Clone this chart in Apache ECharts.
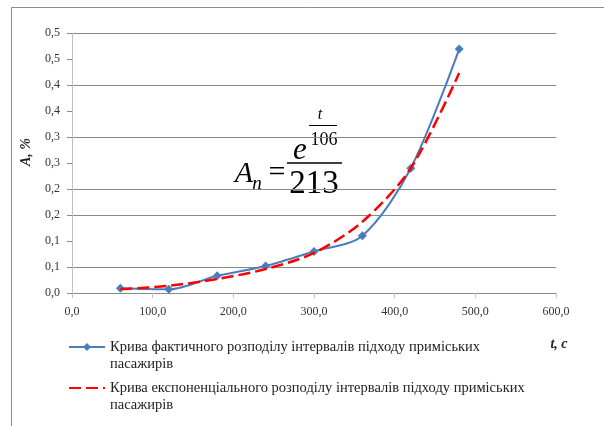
<!DOCTYPE html>
<html><head><meta charset="utf-8">
<script src="https://cdn.jsdelivr.net/npm/echarts@6/dist/echarts.min.js"></script>
<style>html,body{margin:0;padding:0;background:#fff}#c{width:604px;height:426px}</style>
</head><body><div id="c"></div>
<script>
const tValues = [60, 120, 180, 240, 300, 360, 420, 480];
const actualValues = [0.009, 0.007, 0.033, 0.052, 0.080, 0.110, 0.240, 0.469];
const expValues = [0.007, 0.014, 0.027, 0.046, 0.077, 0.137, 0.240, 0.423];
const yTickLabels = ['0,0','0,1','0,1','0,2','0,2','0,3','0,3','0,4','0,4','0,5','0,5'];
const xTickLabels = ['0,0','100,0','200,0','300,0','400,0','500,0','600,0'];
const seriesNames = [
  'Крива фактичного розподілу інтервалів підходу приміських\nпасажирів',
  'Крива експоненціального розподілу інтервалів підходу приміських\nпасажирів'
];
const gridColors = ['#8a8a8a','#8a8a8a','rgba(0,0,0,0)','#8a8a8a','#8a8a8a','rgba(0,0,0,0)','#8a8a8a','rgba(0,0,0,0)','#8a8a8a','rgba(0,0,0,0)','#8a8a8a'];

const serif = '"Liberation Serif", "DejaVu Serif", serif';
const legendBase = {
  orient: 'vertical', left: 68, padding: 0, itemWidth: 36, itemHeight: 10,
  textStyle: {fontFamily: serif, fontSize: 14.5, color: '#222', lineHeight: 17},
  formatter: (name) => '\u00a0\n' + name
};
const chart = echarts.init(document.getElementById('c'), null, {renderer: 'canvas'});
chart.setOption({
  animation: false,
  grid: {left: 72, right: 48, top: 33, bottom: 133, containLabel: false},
  legend: [
    Object.assign({}, legendBase, {top: 321.5, data: [seriesNames[0]]}),
    Object.assign({}, legendBase, {top: 362.5, data: [{name: seriesNames[1], itemStyle: {opacity: 0}}]})
  ],
  xAxis: {
    type: 'value', min: 0, max: 600, interval: 100,
    axisLine: {lineStyle: {color: '#8a8a8a', width: 1}},
    axisTick: {show: true, length: 5, lineStyle: {color: '#c0c0c0'}},
    axisLabel: {fontFamily: serif, fontSize: 12, color: '#333', margin: 13,
      formatter: (v) => xTickLabels[Math.round(v / 100)]},
    splitLine: {show: false}
  },
  yAxis: {
    type: 'value', min: 0, max: 0.5, interval: 0.05,
    axisLine: {show: true, lineStyle: {color: '#c0c0c0', width: 1}},
    axisTick: {show: true, length: 5, lineStyle: {color: '#8a8a8a'}},
    axisLabel: {fontFamily: serif, fontSize: 12, color: '#333', margin: 12,
      formatter: (v) => yTickLabels[Math.round(v / 0.05)]},
    splitLine: {show: true, lineStyle: {color: gridColors, width: 1}}
  },
  series: [
    {
      name: seriesNames[0], type: 'line', smooth: 0.3,
      data: tValues.map((t, i) => [t, actualValues[i]]),
      symbol: 'diamond', symbolSize: 9,
      lineStyle: {color: '#4a7ebb', width: 2},
      itemStyle: {color: '#4a7ebb'}, z: 3
    },
    {
      name: seriesNames[1], type: 'line', smooth: 0.3,
      data: tValues.map((t, i) => [t, expValues[i]]),
      symbol: 'none', showSymbol: false,
      lineStyle: {color: '#ff0000', width: 2.5, type: [12, 5]},
      itemStyle: {color: '#ff0000'}, z: 4
    }
  ],
  graphic: [
    {type: 'rect', shape: {x: 11.5, y: 7.5, width: 620, height: 450}, style: {fill: 'none', stroke: '#8c8c8c', lineWidth: 1}, silent: true},
    {type: 'text', x: 26, y: 152, rotation: Math.PI / 2, style: {x: 0, y: 0, text: 'A, %', font: 'italic bold 14px ' + serif, fill: '#222', align: 'center', verticalAlign: 'middle'}},
    {type: 'text', style: {x: 559, y: 344, text: 't, c', font: 'italic bold 14px ' + serif, fill: '#222', align: 'center', verticalAlign: 'middle'}},
    {type: 'text', style: {x: 244, y: 174, text: 'A', font: 'italic 30px ' + serif, fill: '#000', align: 'center', verticalAlign: 'middle'}},
    {type: 'text', style: {x: 257, y: 184, text: 'n', font: 'italic 19px ' + serif, fill: '#000', align: 'center', verticalAlign: 'middle'}},
    {type: 'text', style: {x: 277, y: 173, text: '=', font: '30px ' + serif, fill: '#000', align: 'center', verticalAlign: 'middle'}},
    {type: 'line', shape: {x1: 287, y1: 163, x2: 342, y2: 163}, style: {stroke: '#000', lineWidth: 1.5}},
    {type: 'text', style: {x: 300, y: 151, text: 'e', font: 'italic 31px ' + serif, fill: '#000', align: 'center', verticalAlign: 'middle'}},
    {type: 'text', style: {x: 324, y: 140, text: '106', font: '18px ' + serif, fill: '#000', align: 'center', verticalAlign: 'middle'}},
    {type: 'line', shape: {x1: 309, y1: 125.5, x2: 337, y2: 125.5}, style: {stroke: '#000', lineWidth: 1}},
    {type: 'text', style: {x: 320, y: 115, text: 't', font: 'italic 16px ' + serif, fill: '#000', align: 'center', verticalAlign: 'middle'}},
    {type: 'text', style: {x: 314, y: 184, text: '213', font: '33px ' + serif, fill: '#000', align: 'center', verticalAlign: 'middle'}}
  ]
});
</script></body></html>
